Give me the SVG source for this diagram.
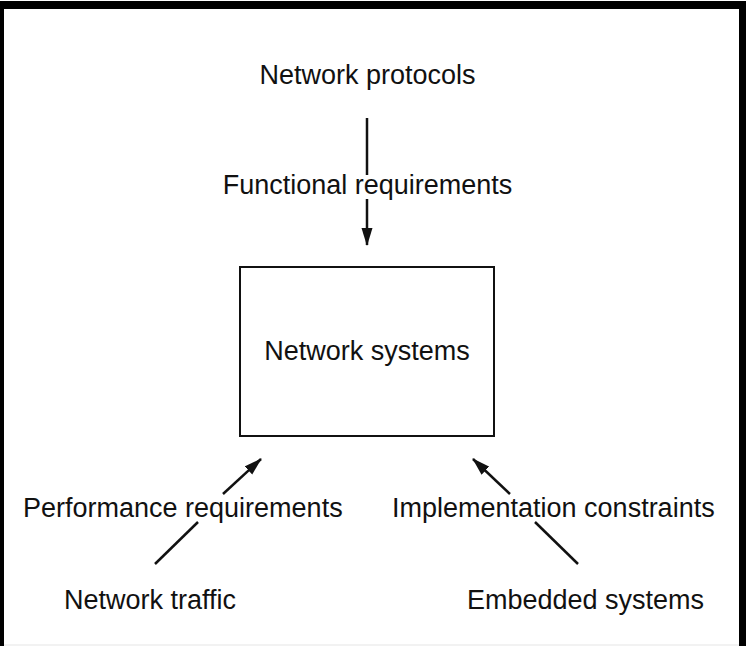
<svg xmlns="http://www.w3.org/2000/svg" width="748" height="646" viewBox="0 0 748 646">
  <style>
    text { font-family: "Liberation Sans", Arial, sans-serif; font-size: 27px; fill: #111; }
    .c { text-anchor: middle; }
    .conn { stroke: #111; stroke-width: 2.5; fill: none; }
    .box { fill: #fff; stroke: #111; stroke-width: 2; }
  </style>
  <defs>
    <marker id="ah" markerUnits="userSpaceOnUse" markerWidth="18" markerHeight="12" refX="17" refY="6" orient="auto">
      <path d="M0,0.5 L18,6 L0,11.5 z" fill="#111"/>
    </marker>
  </defs>
  <rect x="0" y="0" width="748" height="646" fill="#fff"/>
  <g id="frame" fill="#000">
    <rect x="0" y="1" width="746" height="8"/>
    <rect x="0" y="1" width="4" height="645"/>
    <rect x="739" y="1" width="7" height="645"/>
    <rect x="4" y="644.5" width="735" height="1" fill="#e6e6e6"/>
  </g>
  <g id="connectors">
    <line class="conn" x1="367" y1="118" x2="367" y2="175"/>
    <line class="conn" x1="367" y1="199" x2="367" y2="245" marker-end="url(#ah)"/>
    <line class="conn" x1="155" y1="564" x2="198" y2="522"/>
    <line class="conn" x1="223" y1="494" x2="261" y2="459" marker-end="url(#ah)"/>
    <line class="conn" x1="578" y1="564" x2="535" y2="522"/>
    <line class="conn" x1="510" y1="494" x2="473" y2="459" marker-end="url(#ah)"/>
  </g>
  <g id="network-protocols">
    <text class="c" x="367.5" y="84">Network protocols</text>
  </g>
  <g id="functional-requirements">
    <text class="c" x="367.5" y="194">Functional requirements</text>
  </g>
  <g id="network-systems">
    <rect class="box" x="240" y="267" width="254" height="169"/>
    <text class="c" x="367" y="360">Network systems</text>
  </g>
  <g id="performance-requirements">
    <text x="23" y="517">Performance requirements</text>
  </g>
  <g id="implementation-constraints">
    <text x="392" y="517">Implementation constraints</text>
  </g>
  <g id="network-traffic">
    <text x="64" y="609">Network traffic</text>
  </g>
  <g id="embedded-systems">
    <text x="467" y="609">Embedded systems</text>
  </g>
</svg>
